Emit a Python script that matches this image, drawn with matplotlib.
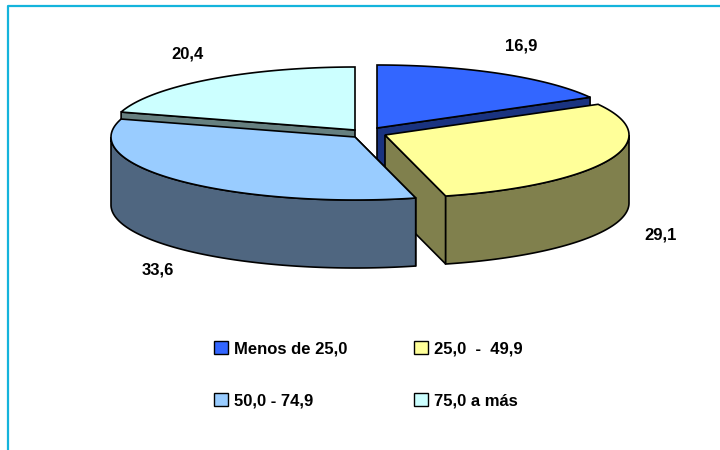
# Pie 3D por rangos (porcentajes)

import numpy as np
import matplotlib
matplotlib.use("Agg")
import matplotlib.pyplot as plt
from matplotlib.patches import Polygon, Patch

categorias = ["Menos de 25,0", "25,0  -  49,9", "50,0 - 74,9", "75,0 a más"]
valores = [16.9, 29.1, 33.6, 20.4]
etiquetas = ["16,9", "29,1", "33,6", "20,4"]

color_top = ["#3366FF", "#FFFF99", "#99CCFF", "#CCFFFF"]
color_side = ["#1A3380", "#80804D", "#4F6680", "#668080"]

# centro de cada porcion (explotada), en pixeles
centros = [(377, 128), (385, 135), (355, 137), (355, 130)]
pos_etiquetas = [(521, 46), (661, 235), (158, 270), (187, 54)]
A = 244
B = 63
ALTO = 68

plt.rcParams["font.family"] = ["Liberation Sans", "DejaVu Sans"]
plt.rcParams["font.weight"] = "bold"

fig = plt.figure(figsize=(7.2, 4.5), dpi=100)
ax = fig.add_axes([0, 0, 1, 1])
ax.set_xlim(0, 720)
ax.set_ylim(450, 0)
ax.axis("off")


def borde(c, a0, a1):
    t = np.radians(np.linspace(a0, a1, 120))
    return np.column_stack([c[0] + A * np.sin(t), c[1] - B * np.cos(t)])


# marco (solo arriba e izquierda)
ax.plot([8, 8, 720], [450, 6, 6], color="#14B4DC", lw=1.6, zorder=1)

cortes = np.concatenate([[0], np.cumsum(valores)]) / sum(valores) * 360


def porcion(i, cara_ang, z):
    c = centros[i]
    a0, a1 = cortes[i], cortes[i + 1]
    # cara del corte
    p = borde(c, cara_ang, cara_ang)[0]
    cara = [c, p, (p[0], p[1] + ALTO), (c[0], c[1] + ALTO)]
    ax.add_patch(Polygon(cara, fc=color_side[i], ec="black", lw=1.2, zorder=z))
    # pared exterior (solo la parte de adelante)
    v0, v1 = max(a0, 90), min(a1, 270)
    if v1 > v0:
        arco = borde(c, v0, v1)
        bajo = arco[::-1] + [0, ALTO]
        ax.add_patch(Polygon(np.vstack([arco, bajo]), fc=color_side[i], ec="black", lw=1.2, zorder=z))
    # tapa
    tapa = np.vstack([[c], borde(c, a0, a1)])
    ax.add_patch(Polygon(tapa, fc=color_top[i], ec="black", lw=1.2, zorder=z))


# de atras hacia adelante
porcion(3, cortes[3], 2)
porcion(0, cortes[1], 3)
porcion(1, cortes[2], 4)
porcion(2, cortes[2], 5)

for txt, (x, y) in zip(etiquetas, pos_etiquetas):
    ax.text(x, y, txt, fontsize=12, ha="center", va="center", color="black")

handles = [Patch(fc=color_top[i], ec="black", lw=1, label=categorias[i]) for i in [0, 2, 1, 3]]
fig.legend(
    handles=handles,
    ncol=2,
    loc="upper left",
    bbox_to_anchor=(209 / 720, 1 - 336 / 450),
    frameon=False,
    fontsize=12,
    handlelength=0.84,
    handleheight=0.84,
    handletextpad=0.36,
    columnspacing=4.0,
    labelspacing=2.2,
    borderpad=0.3,
    borderaxespad=0,
)

fig.savefig("out.png", dpi=100)
